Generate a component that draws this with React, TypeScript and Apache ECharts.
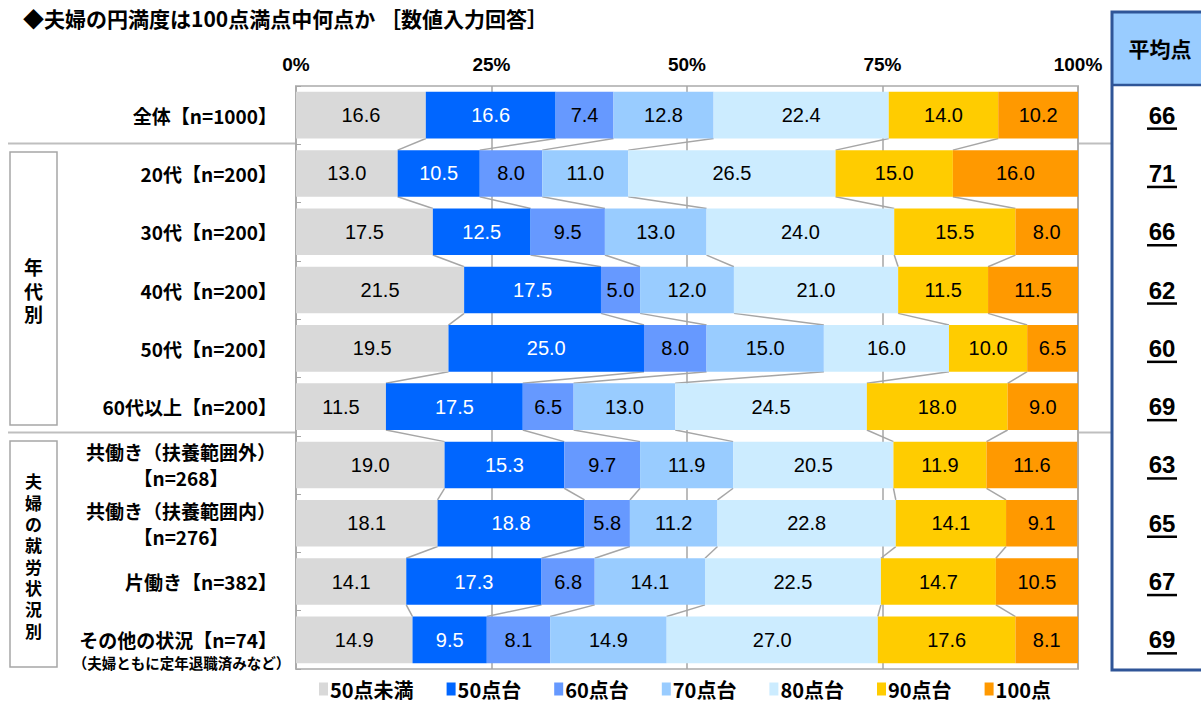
import React, { useEffect, useRef } from "react";
import * as echarts from "echarts";

const categories = [
  "全体【n=1000】",
  "20代【n=200】",
  "30代【n=200】",
  "40代【n=200】",
  "50代【n=200】",
  "60代以上【n=200】",
  "共働き（扶養範囲外）\n【n=268】",
  "共働き（扶養範囲内）\n【n=276】",
  "片働き【n=382】",
  "その他の状況【n=74】\n（夫婦ともに定年退職済みなど）",
];

const seriesNames = ["50点未満", "50点台", "60点台", "70点台", "80点台", "90点台", "100点"];
const seriesColors = ["#D9D9D9", "#0066FF", "#6699FF", "#99CCFF", "#CCECFF", "#FFCC00", "#FF9900"];

const s50under = [16.6, 13.0, 17.5, 21.5, 19.5, 11.5, 19.0, 18.1, 14.1, 14.9];
const s50 = [16.6, 10.5, 12.5, 17.5, 25.0, 17.5, 15.3, 18.8, 17.3, 9.5];
const s60 = [7.4, 8.0, 9.5, 5.0, 8.0, 6.5, 9.7, 5.8, 6.8, 8.1];
const s70 = [12.8, 11.0, 13.0, 12.0, 15.0, 13.0, 11.9, 11.2, 14.1, 14.9];
const s80 = [22.4, 26.5, 24.0, 21.0, 16.0, 24.5, 20.5, 22.8, 22.5, 27.0];
const s90 = [14.0, 15.0, 15.5, 11.5, 10.0, 18.0, 11.9, 14.1, 14.7, 17.6];
const s100 = [10.2, 16.0, 8.0, 11.5, 6.5, 9.0, 11.6, 9.1, 10.5, 8.1];

const averages = [66, 71, 66, 62, 60, 69, 63, 65, 67, 69];

const xTicks = [0, 25, 50, 75, 100];

const groupAge = ["年", "代", "別"];
const groupWork = ["夫", "婦", "の", "就", "労", "状", "況", "別"];

const allSeries = [s50under, s50, s60, s70, s80, s90, s100];

const JP = "'Noto Sans CJK JP', 'Liberation Sans', sans-serif";
const NUM = "'Liberation Sans', 'Noto Sans CJK JP', sans-serif";

function cumulative(row: number): number[] {
  const out: number[] = [];
  let c = 0;
  for (let k = 0; k < allSeries.length - 1; k++) {
    c += allSeries[k][row];
    out.push(c);
  }
  return out;
}

function formatCategory(v: string): string {
  if (v.startsWith("その他")) {
    const [a, b] = v.split("\n");
    return `{e| }\n{o|${a}}\n{s|${b}}`;
  }
  if (v.includes("\n")) {
    const [a, b] = v.split("\n");
    return `{w|${a}}\n{w|${b}}`;
  }
  return `{n|${v}}`;
}

function verticalText(chars: string[], cx: number, cy: number, pitch: number, size: number) {
  const n = chars.length;
  return chars.map((ch, i) => ({
    type: "text",
    style: {
      text: ch,
      x: cx,
      y: cy + (i - (n - 1) / 2) * pitch,
      align: "center",
      verticalAlign: "middle",
      fontSize: size,
      fontWeight: "bold",
      fontFamily: JP,
      fill: "#000",
    },
  }));
}

export default function App() {
  const ref = useRef<HTMLDivElement>(null);

  useEffect(() => {
    if (!ref.current) return;
    const chart = echarts.init(ref.current, null, { renderer: "svg" });

    const barSeries = seriesNames.map((name, k) => ({
      name,
      type: "bar",
      stack: "total",
      barWidth: "80%",
      data: allSeries[k],
      itemStyle: { color: seriesColors[k] },
      label: {
        show: true,
        position: "inside",
        formatter: (p: any) => Number(p.value).toFixed(1),
        color: k === 1 ? "#FFFFFF" : "#000000",
        fontSize: 20,
        fontFamily: NUM,
      },
      emphasis: { disabled: true },
    }));

    const connectorData = categories.slice(0, categories.length - 1).map((_, i) => [0, i]);

    const connectorSeries = {
      type: "custom",
      name: "connectors",
      silent: true,
      data: connectorData,
      encode: { x: 0, y: 1 },
      z: 1,
      renderItem: (params: any, api: any) => {
        const i = api.value(1);
        const band = api.size([0, 1])[1];
        const half = band * 0.4;
        const a = cumulative(i);
        const b = cumulative(i + 1);
        const children = a.map((va, k) => {
          const p1 = api.coord([va, i]);
          const p2 = api.coord([b[k], i + 1]);
          return {
            type: "line",
            shape: { x1: p1[0], y1: p1[1] + half, x2: p2[0], y2: p2[1] - half },
            style: { stroke: "#A6A6A6", lineWidth: 1.5 },
          };
        });
        return { type: "group", children };
      },
    };

    const avgSeries = {
      type: "custom",
      name: "avg",
      silent: true,
      clip: false,
      data: averages.map((v, i) => [100, i, v]),
      encode: { x: 0, y: 1 },
      renderItem: (params: any, api: any) => {
        const p = api.coord([api.value(0), api.value(1)]);
        const cx = p[0] + 84;
        const cy = p[1];
        return {
          type: "group",
          children: [
            {
              type: "text",
              style: {
                text: String(api.value(2)),
                x: cx,
                y: cy,
                align: "center",
                verticalAlign: "middle",
                fontSize: 24,
                fontWeight: "bold",
                fontFamily: NUM,
                fill: "#000",
              },
            },
            {
              type: "line",
              shape: { x1: cx - 15, y1: cy + 13.5, x2: cx + 15, y2: cy + 13.5 },
              style: { stroke: "#000", lineWidth: 2.5 },
            },
          ],
        };
      },
    };

    const option: any = {
      animation: false,
      backgroundColor: "#FFFFFF",
      textStyle: { fontFamily: JP },
      grid: { left: 296, top: 86, width: 782, height: 583, show: true, borderColor: "#BFBFBF", borderWidth: 2, containLabel: false },
      title: {
        text: "◆夫婦の円満度は100点満点中何点か ［数値入力回答］",
        left: 18,
        top: 2,
        textStyle: { fontSize: 21, fontWeight: "bold", fontFamily: JP, color: "#000" },
      },
      legend: {
        data: seriesNames,
        bottom: 2,
        left: 314,
        itemWidth: 9,
        itemHeight: 13,
        itemGap: 33,
        icon: "rect",
        textStyle: { fontSize: 20, fontWeight: "bold", fontFamily: JP, color: "#000", padding: [0, 0, 0, -3] },
        selectedMode: false,
      },
      xAxis: {
        type: "value",
        position: "top",
        min: xTicks[0],
        max: xTicks[xTicks.length - 1],
        interval: 25,
        axisLine: { show: false },
        axisTick: { show: false },
        axisLabel: {
          formatter: (v: number) => `${v}%`,
          fontSize: 19,
          fontWeight: "bold",
          fontFamily: NUM,
          color: "#000",
          margin: 12,
        },
        splitLine: { show: true, lineStyle: { color: "#A6A6A6", width: 1.5 } },
      },
      yAxis: {
        type: "category",
        inverse: true,
        data: categories,
        axisLine: { show: false },
        axisTick: { show: true, inside: true, length: 5, lineStyle: { color: "#A6A6A6" } },
        axisLabel: {
          margin: 5,
          formatter: formatCategory,
          color: "#000",
          rich: {
            n: { fontSize: 19, fontWeight: "bold", fontFamily: JP, color: "#000", padding: [0, 14, 0, 0] },
            w: { fontSize: 19, fontWeight: "bold", fontFamily: JP, color: "#000", width: 194, align: "center", lineHeight: 26, padding: [0, 13, 0, 0] },
            o: { fontSize: 19, fontWeight: "bold", fontFamily: JP, color: "#000", width: 205, align: "right", lineHeight: 22, padding: [0, 14, 0, 0] },
            s: { fontSize: 14.5, fontWeight: "bold", fontFamily: JP, color: "#000", width: 219, align: "center", lineHeight: 24 },
            e: { fontSize: 10, lineHeight: 24 },
          },
        },
      },
      graphic: [
        { type: "line", shape: { x1: 8, y1: 143.5, x2: 296, y2: 143.5 }, style: { stroke: "#BFBFBF", lineWidth: 2 } },
        { type: "line", shape: { x1: 1078, y1: 143.5, x2: 1112, y2: 143.5 }, style: { stroke: "#BFBFBF", lineWidth: 2 } },
        { type: "line", shape: { x1: 8, y1: 432.5, x2: 296, y2: 432.5 }, style: { stroke: "#BFBFBF", lineWidth: 2 } },
        { type: "line", shape: { x1: 1078, y1: 432.5, x2: 1112, y2: 432.5 }, style: { stroke: "#BFBFBF", lineWidth: 2 } },
        { type: "rect", shape: { x: 10, y: 152, width: 47, height: 273 }, style: { fill: "#FFF", stroke: "#A6A6A6", lineWidth: 1.5 } },
        { type: "rect", shape: { x: 10, y: 441, width: 47, height: 226 }, style: { fill: "#FFF", stroke: "#A6A6A6", lineWidth: 1.5 } },
        ...verticalText(groupAge, 33.5, 290, 23.5, 19),
        ...verticalText(groupWork, 33.5, 555.5, 21.3, 17),
        { type: "rect", z: -1, shape: { x: 1112, y: 12, width: 100, height: 73 }, style: { fill: "#99CCFF", stroke: "none" } },
        { type: "line", shape: { x1: 1112, y1: 85, x2: 1212, y2: 85 }, style: { stroke: "#2F5597", lineWidth: 2.5 } },
        { type: "rect", shape: { x: 1112, y: 12, width: 100, height: 658 }, style: { fill: "none", stroke: "#2F5597", lineWidth: 3 } },
        {
          type: "text",
          style: { text: "平均点", x: 1160, y: 48, align: "center", verticalAlign: "middle", fontSize: 21, fontWeight: "bold", fontFamily: JP, fill: "#000" },
        },
      ],
      series: [...barSeries, connectorSeries, avgSeries],
    };

    chart.setOption(option);
    return () => chart.dispose();
  }, []);

  return <div ref={ref} style={{ position: "absolute", left: 0, top: 0, width: 1201, height: 706 }} />;
}
